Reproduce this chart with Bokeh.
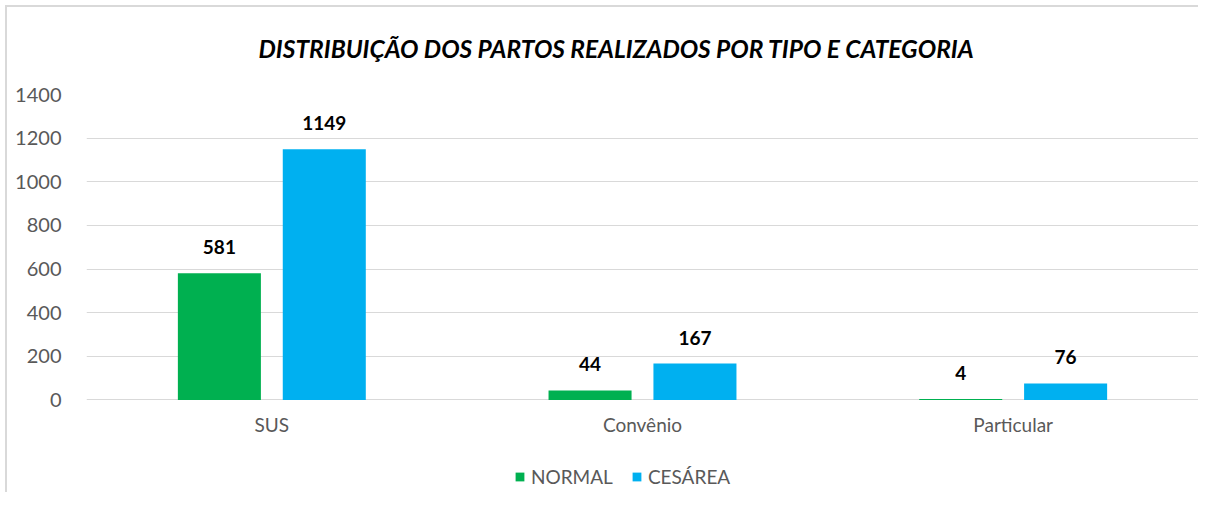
from bokeh.plotting import figure
from bokeh.models import ColumnDataSource, FactorRange, Range1d, Legend, LegendItem, Title
from bokeh.transform import dodge
from bokeh.core.properties import value
from bokeh.embed import file_html
from bokeh.resources import INLINE

categories = ["SUS", "Convênio", "Particular"]
normal = [581, 44, 4]
cesarea = [1149, 167, 76]
series_names = ["NORMAL", "CESÁREA"]
y_ticks = [0, 200, 400, 600, 800, 1000, 1200, 1400]

GREEN = "#00B050"
BLUE = "#00B0F0"
GRID = "#d9d9d9"
TXT = "#595959"
FONT = "Lato"

src = ColumnDataSource(dict(
    cat=categories,
    zero=[0] * len(categories),
    normal=normal,
    cesarea=cesarea,
    normal_lbl=[str(v) for v in normal],
    cesarea_lbl=[str(v) for v in cesarea],
))

# frame extends below zero to leave room for the category labels and the legend
p = figure(
    x_range=FactorRange(*categories),
    y_range=Range1d(-424, 1400),
    width=1198, height=492,
    output_backend="svg", toolbar_location=None,
    min_border_left=86, min_border_right=0, min_border_top=92, min_border_bottom=0,
)
# light grey chart-area border (left and top edges visible in the reference)
p.border_fill_alpha = 0
p.styles = {
    "background": "linear-gradient(#d9d9d9,#d9d9d9) 5px 5px / 2px 100% no-repeat, "
                  "linear-gradient(#d9d9d9,#d9d9d9) 5px 5px / 100% 2px no-repeat, #ffffff",
}

t = Title(text="DISTRIBUIÇÃO DOS PARTOS REALIZADOS POR TIPO E CATEGORIA",
          align="left", offset=172, text_font=FONT, text_font_style="bold italic",
          text_font_size="24.5px", text_color="#000000", standoff=63)
p.add_layout(t, "above")

off = 0.1415
bw = 0.224
r1 = p.vbar(x=dodge("cat", -off, range=p.x_range), top="normal", bottom="zero", width=bw,
            source=src, color=GREEN, line_color=None)
r2 = p.vbar(x=dodge("cat", off, range=p.x_range), top="cesarea", bottom="zero", width=bw,
            source=src, color=BLUE, line_color=None)

for field, o in (("normal_lbl", -off), ("cesarea_lbl", off)):
    yfield = field.replace("_lbl", "")
    p.text(x=dodge("cat", o, range=p.x_range), y=yfield, text=field, source=src,
           text_align="center", text_baseline="bottom", y_offset=-19,
           text_font=value(FONT), text_font_style="bold", text_font_size="19px",
           text_color="#000000")

# category labels under the zero line
p.text(x="cat", y="zero", text="cat", source=src, text_align="center",
       text_baseline="top", y_offset=13, text_font=value(FONT),
       text_font_size="19px", text_color=TXT)

p.xgrid.grid_line_color = None
p.ygrid.grid_line_color = GRID
p.ygrid.grid_line_width = 1
p.yaxis.ticker = y_ticks
p.ygrid.ticker = y_ticks
p.yaxis.axis_line_color = None
p.yaxis.major_tick_line_color = None
p.yaxis.minor_tick_line_color = None
p.yaxis.major_label_text_font = FONT
p.yaxis.major_label_text_font_size = "20px"
p.yaxis.major_label_text_color = TXT
p.yaxis.major_label_standoff = 19
p.xaxis.visible = False
p.outline_line_color = None

legend = Legend(items=[LegendItem(label=series_names[0], renderers=[r1]),
                       LegendItem(label=series_names[1], renderers=[r2])],
                orientation="horizontal", location=(428, 4),
                label_text_font=FONT, label_text_font_size="19px",
                label_text_color=TXT, glyph_width=11, glyph_height=11,
                label_standoff=6, spacing=18, border_line_color=None,
                background_fill_alpha=0, padding=0, margin=0)
p.add_layout(legend, "center")

open("out.html", "w").write(file_html(p, INLINE))
